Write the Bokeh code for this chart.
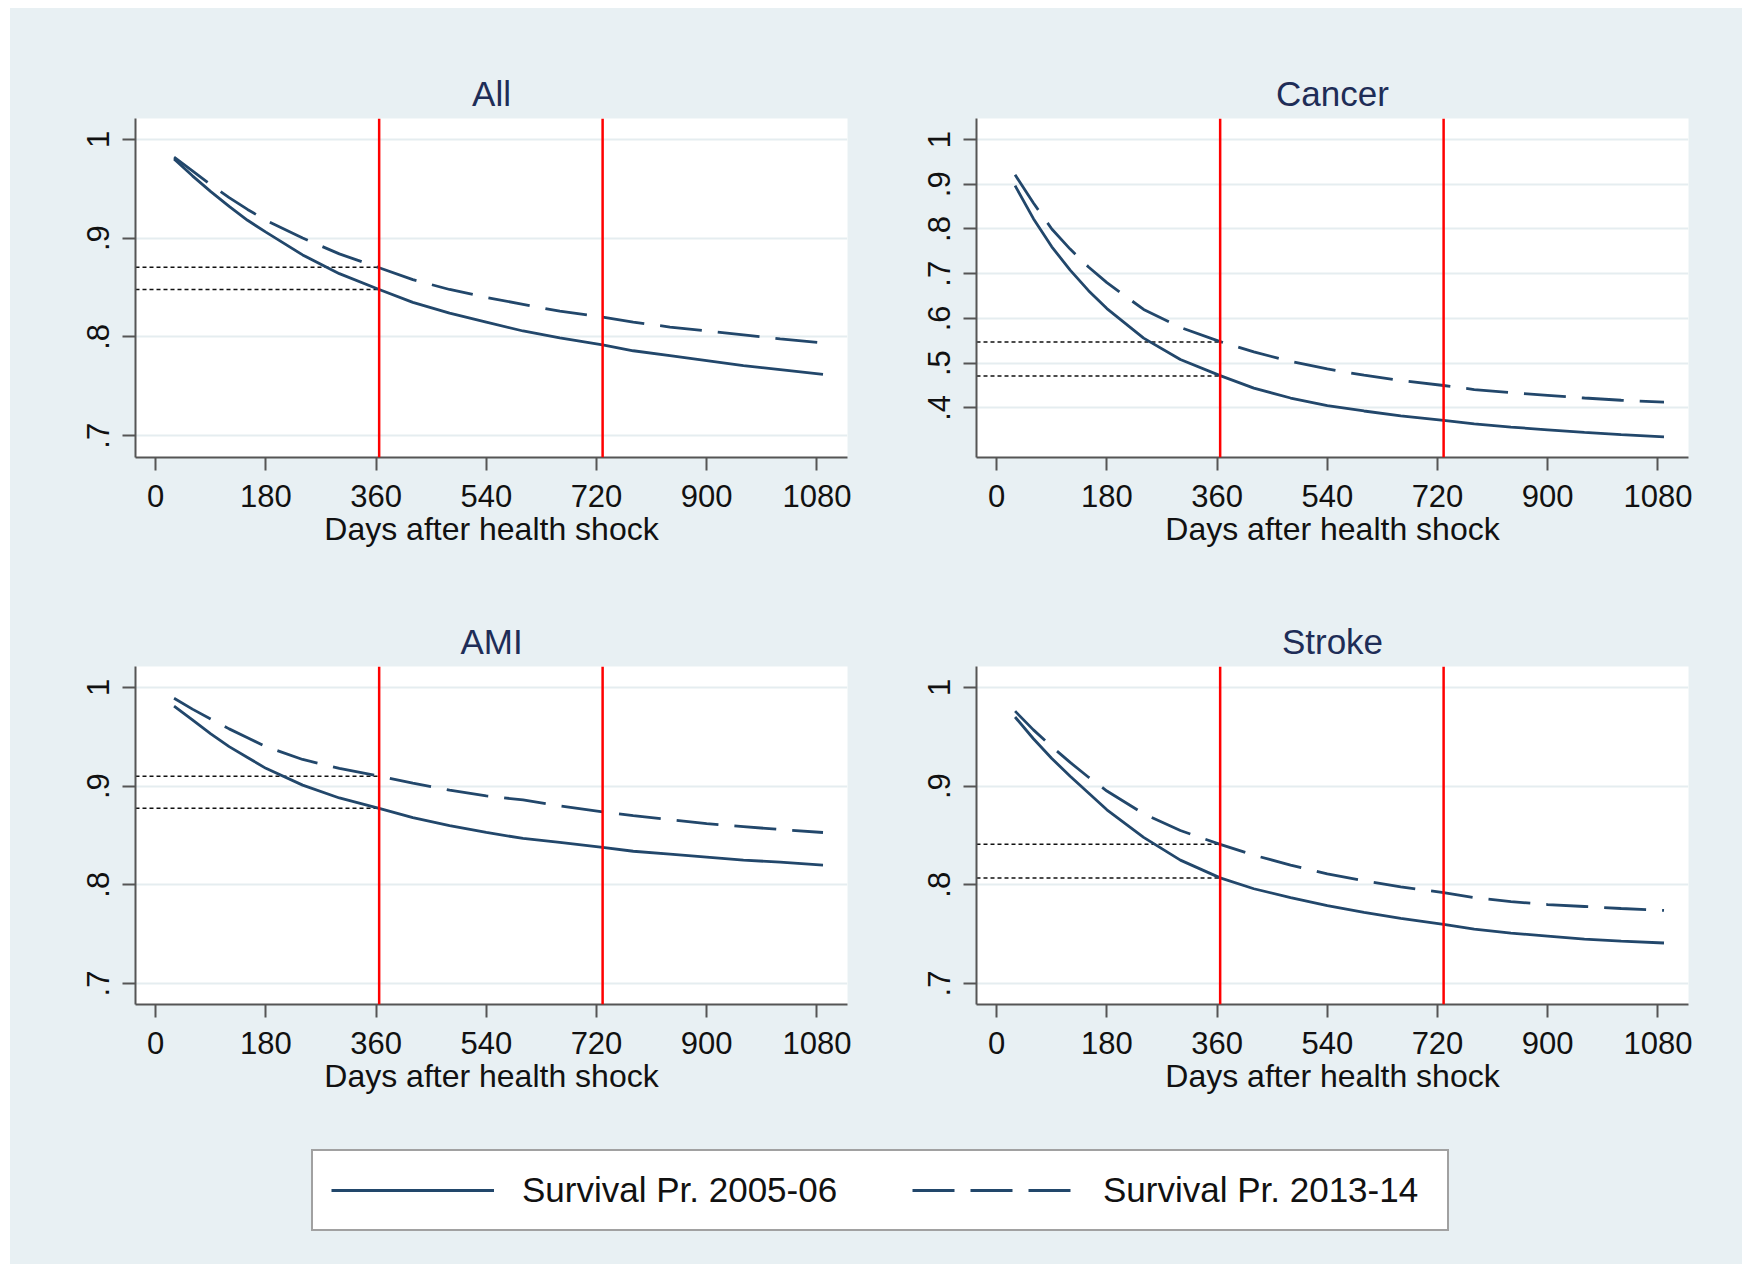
from bokeh.plotting import figure
from bokeh.models import (Range1d, FixedTicker, CustomJSTickFormatter, Span, Legend, LegendItem)
from bokeh.layouts import column, row
from bokeh.embed import file_html
from bokeh.resources import INLINE

# ---------------- data ----------------
days = [30, 60, 90, 120, 150, 180, 240, 300, 365, 420, 480, 540, 600, 660, 730, 780, 840, 900, 960, 1020, 1090]

all_0506 = [.980, .963, .947, .932, .918, .906, .883, .864, .848, .835, .824, .815, .806, .799, .792, .786, .781, .776, .771, .767, .762]
all_1314 = [.982, .968, .954, .941, .929, .918, .900, .884, .870, .858, .848, .840, .833, .826, .820, .815, .810, .806, .802, .798, .794]

cancer_0506 = [.897, .823, .760, .708, .662, .622, .556, .508, .472, .444, .422, .405, .393, .382, .372, .364, .357, .351, .345, .340, .335]
cancer_1314 = [.921, .858, .800, .755, .715, .680, .620, .580, .548, .525, .504, .487, .473, .461, .450, .441, .434, .428, .422, .417, .413]

ami_0506 = [.981, .967, .953, .940, .929, .918, .901, .888, .8775, .868, .860, .853, .847, .843, .838, .834, .831, .828, .825, .823, .820]
ami_1314 = [.989, .978, .968, .958, .949, .940, .927, .918, .910, .903, .896, .890, .886, .880, .874, .870, .866, .862, .859, .856, .853]

stroke_0506 = [.970, .948, .928, .910, .893, .876, .848, .825, .807, .796, .787, .779, .772, .766, .760, .755, .751, .748, .745, .743, .741]
stroke_1314 = [.976, .957, .940, .924, .909, .895, .872, .855, .841, .830, .820, .811, .804, .798, .792, .787, .783, .780, .778, .776, .774]

ref_all = [.848, .8705]
ref_cancer = [.4715, .5475]
ref_ami = [.8775, .910]
ref_stroke = [.807, .841]

ref_days = [365, 730]
x_ticks = [0, 180, 360, 540, 720, 900, 1080]
y_ticks_std = [0.7, 0.8, 0.9, 1.0]
y_ticks_cancer = [0.4, 0.5, 0.6, 0.7, 0.8, 0.9, 1.0]

titles = ["All", "Cancer", "AMI", "Stroke"]
legend_labels = ["Survival Pr. 2005-06", "Survival Pr. 2013-14"]
x_label = "Days after health shock"

# ---------------- style ----------------
BG = "#e8f0f3"
NAVY = "#22476b"
FONT = "Liberation Sans"
XMIN, XMAX = -33, 1130

fmt = CustomJSTickFormatter(code="""
    if (Math.abs(tick - 1) < 1e-9) { return '1'; }
    return tick.toFixed(1).replace(/^0/, '');
""")


def panel(title, yr, yticks, s0506, s1314, refs, w, h, mbl, mbr, mbt, mbb):
    p = figure(width=w, height=h, x_range=Range1d(XMIN, XMAX), y_range=Range1d(*yr),
               output_backend="svg", toolbar_location=None,
               min_border_left=mbl, min_border_right=mbr, min_border_top=mbt, min_border_bottom=mbb)
    p.background_fill_color = "white"
    p.border_fill_color = BG
    p.outline_line_color = None

    p.title.text = title
    p.title.align = "center"
    p.title.text_font = FONT
    p.title.text_font_size = "35px"
    p.title.text_font_style = "normal"
    p.title.text_color = "#1e2d57"
    p.title.standoff = 11

    xa = p.xaxis[0]
    xa.ticker = FixedTicker(ticks=x_ticks)
    xa.axis_label = x_label
    ya = p.yaxis[0]
    ya.ticker = FixedTicker(ticks=yticks)
    ya.formatter = fmt
    ya.major_label_orientation = "vertical"
    for ax in (xa, ya):
        ax.axis_line_color = "#555555"
        ax.axis_line_width = 2
        ax.major_tick_line_color = "#555555"
        ax.major_tick_line_width = 2
        ax.major_tick_out = 13
        ax.major_tick_in = 0
        ax.minor_tick_out = 0
        ax.minor_tick_in = 0
        ax.major_label_text_font = FONT
        ax.major_label_text_font_size = "31px"
        ax.major_label_text_color = "#111111"
        ax.axis_label_text_font = FONT
        ax.axis_label_text_font_size = "32px"
        ax.axis_label_text_font_style = "normal"
        ax.axis_label_text_color = "#111111"
    xa.major_label_standoff = 14
    xa.axis_label_standoff = 1
    ya.major_label_standoff = 13

    p.xgrid.visible = False
    p.ygrid.grid_line_color = "#e5edf0"
    p.ygrid.grid_line_width = 2

    for d in ref_days:
        p.add_layout(Span(location=d, dimension="height", line_color="#ff0000", line_width=2.5))
    p.segment(x0=[XMIN] * len(refs), x1=[ref_days[0]] * len(refs), y0=refs, y1=refs,
              line_color="#111111", line_width=1.5, line_dash="4 3")

    p.line(days, s0506, line_color=NAVY, line_width=2.8)
    p.line(days, s1314, line_color=NAVY, line_width=2.8, line_dash="42 16")
    return p


p1 = panel(titles[0], (0.678, 1.021), y_ticks_std, all_0506, all_1314, ref_all, 860, 572, 125, 23, 110, 123)
p2 = panel(titles[1], (0.289, 1.047), y_ticks_cancer, cancer_0506, cancer_1314, ref_cancer, 872, 572, 106, 54, 110, 123)
p3 = panel(titles[2], (0.6787, 1.0212), y_ticks_std, ami_0506, ami_1314, ref_ami, 860, 540, 125, 23, 86, 116)
p4 = panel(titles[3], (0.6787, 1.0212), y_ticks_std, stroke_0506, stroke_1314, ref_stroke, 872, 540, 106, 54, 86, 116)

# legend figure
lg = figure(width=1732, height=144, x_range=Range1d(0, 1), y_range=Range1d(0, 1),
            output_backend="svg", toolbar_location=None, x_axis_type=None, y_axis_type=None,
            min_border=0, min_border_left=0, min_border_right=0, min_border_top=0, min_border_bottom=0)
lg.background_fill_color = BG
lg.border_fill_color = BG
lg.outline_line_color = None
lg.xgrid.visible = False
lg.ygrid.visible = False
nan = float("nan")
r1 = lg.line(x=[nan, nan], y=[nan, nan], line_color=NAVY, line_width=3)
r2 = lg.line(x=[nan, nan], y=[nan, nan], line_color=NAVY, line_width=3, line_dash="42 16")
legend = Legend(items=[LegendItem(label=legend_labels[0], renderers=[r1]),
                       LegendItem(label=legend_labels[1], renderers=[r2])],
                orientation="horizontal", location=(301, 33), margin=0,
                glyph_width=163, glyph_height=20, label_standoff=28, spacing=64, padding=18,
                label_height=42, label_width=326,
                border_line_color="#444444", border_line_width=2.5,
                background_fill_color="white", background_fill_alpha=1.0,
                label_text_font=FONT, label_text_font_size="35px", label_text_color="#111111")
lg.add_layout(legend)

r_top = row(p1, p2, styles={"background-color": BG})
r_bot = row(p3, p4, styles={"background-color": BG})
layout = column(r_top, r_bot, lg, styles={"background-color": BG})
layout.margin = (8, 0, 0, 10)
open("out.html", "w").write(file_html(layout, INLINE))
